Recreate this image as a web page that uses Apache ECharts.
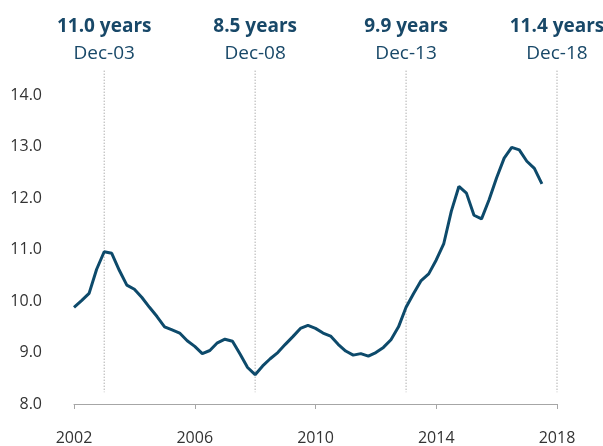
<!DOCTYPE html>
<html lang="en">
<head>
  <meta charset="UTF-8">
  <title>Years</title>
  <script src="https://cdn.jsdelivr.net/npm/echarts@6/dist/echarts.min.js"></script>
  <style>
    html, body { margin: 0; padding: 0; background: #fff; }
    #main { width: 603px; height: 446px; }
  </style>
</head>
<body>

<div id="main"></div>

<script>
  // quarterly values, first point at start of 2002
  var startYear = 2002;
  var values = [
    9.88, 10.01, 10.15, 10.62,
    10.96, 10.93, 10.60, 10.31,
    10.23, 10.07, 9.88, 9.70,
    9.50, 9.44, 9.38, 9.23,
    9.12, 8.98, 9.04, 9.19,
    9.26, 9.22, 8.97, 8.71,
    8.57, 8.74, 8.88, 9.00,
    9.16, 9.31, 9.47, 9.53,
    9.47, 9.38, 9.32, 9.16,
    9.03, 8.95, 8.98, 8.93,
    9.00, 9.10, 9.25, 9.50,
    9.88, 10.15, 10.40, 10.53,
    10.80, 11.12, 11.75, 12.23,
    12.10, 11.67, 11.60, 11.97,
    12.40, 12.78, 12.99, 12.94,
    12.72, 12.58, 12.28
  ];
  var xTicks = [2002, 2006, 2010, 2014, 2018];
  var yTicks = [8, 9, 10, 11, 12, 13, 14];

  // dotted markers and their headings
  var markYears = [2003, 2008, 2013, 2018];
  var markValues = ['11.0 years', '8.5 years', '9.9 years', '11.4 years'];
  var markDates = ['Dec-03', 'Dec-08', 'Dec-13', 'Dec-18'];
  var markTop = 14.48;
  var markBottom = 8.23;

  var navy = '#0d4a6b';
  var textNavy = '#184868';
  var font = 'Open Sans';

  var seriesData = values.map(function (v, i) {
    return [startYear + i * 0.25, v];
  });

  var series = [{
    name: 'years',
    type: 'line',
    data: seriesData,
    showSymbol: false,
    symbol: 'none',
    lineStyle: { color: navy, width: 3 },
    z: 3
  }];

  markYears.forEach(function (yr, k) {
    series.push({
      type: 'line',
      clip: false,
      silent: true,
      symbolSize: 0,
      lineStyle: { color: '#8c8c8c', width: 1, type: [1, 2] },
      data: [
        {
          value: [yr, markTop],
          label: {
            show: true,
            position: 'top',
            distance: 4,
            formatter: '{b|' + markValues[k] + '}\n{d|' + markDates[k] + '}',
            rich: {
              b: { fontFamily: font, fontSize: 19, fontWeight: 'bold', color: textNavy, lineHeight: 27, align: 'center' },
              d: { fontFamily: font, fontSize: 19, color: textNavy, lineHeight: 27, align: 'center' }
            }
          }
        },
        [yr, markBottom]
      ],
      z: 1
    });
  });

  echarts.init($('#main')).setOption({
    animation: false,
    grid: {
      left: 74,
      right: 46,
      top: 95.4,
      bottom: 41.3
    },
    xAxis: {
      type: 'value',
      min: xTicks[0],
      max: xTicks[xTicks.length - 1],
      interval: 4,
      axisLine: { show: true, lineStyle: { color: '#a6a6a6', width: 1 } },
      axisTick: { show: true, length: 5, lineStyle: { color: '#a6a6a6' } },
      splitLine: { show: false },
      axisLabel: {
        margin: 26,
        color: '#333',
        fontFamily: font,
        fontSize: 16,
        formatter: function (v) { return String(v); }
      }
    },
    yAxis: {
      type: 'value',
      min: yTicks[0],
      max: yTicks[yTicks.length - 1],
      interval: 1,
      axisLine: { show: false },
      axisTick: { show: false },
      splitLine: { show: false },
      axisLabel: {
        margin: 32,
        color: '#333',
        fontFamily: font,
        fontSize: 16,
        formatter: function (v) { return v.toFixed(1); }
      }
    },
    series: series
  });

  function $(dom) {
    return document.querySelector(dom)
  }
</script>
</body>
</html>
